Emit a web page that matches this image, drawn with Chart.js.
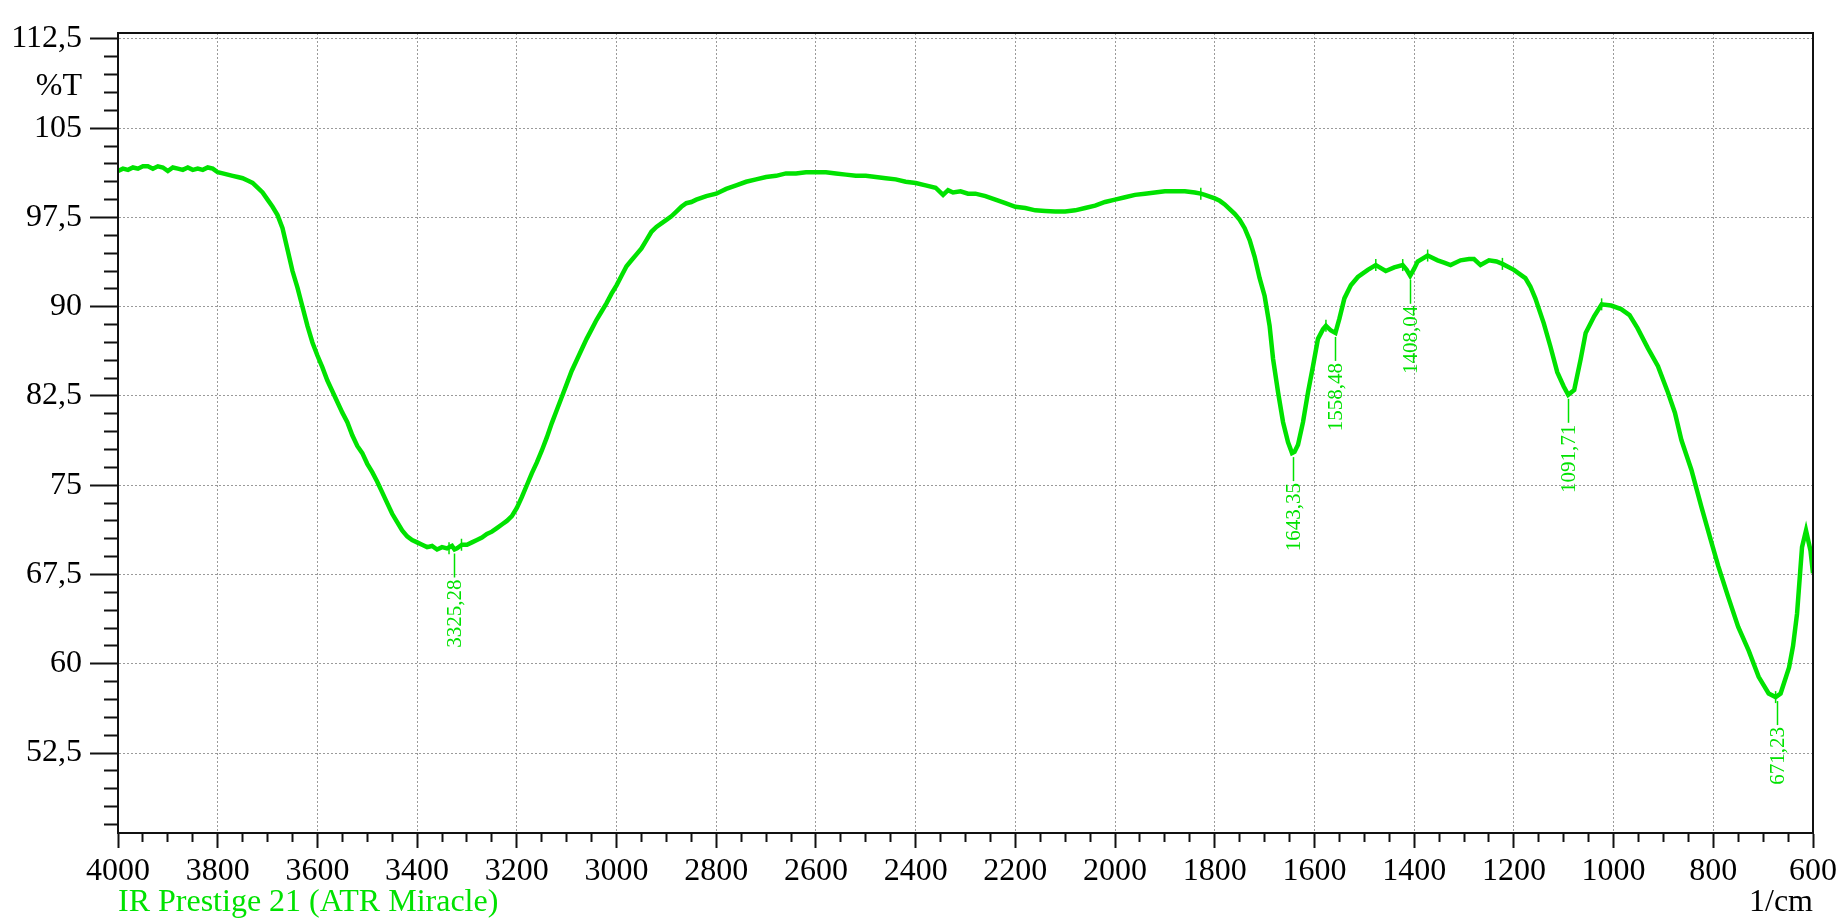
<!DOCTYPE html>
<html>
<head>
<meta charset="utf-8">
<script src="https://cdn.jsdelivr.net/npm/chart.js@4/dist/chart.umd.min.js"></script>
<style>
html, body { margin: 0; padding: 0; background: #fff; }
</style>
</head>
<body>
<canvas id="spectrum" width="1844" height="922"></canvas>
<script>
// spectrum (1/cm , %T)
var wavenumbers = [
    4000, 3990, 3980, 3970, 3960, 3950, 3940, 3930, 3920, 3910, 3900, 3890, 3880, 3870, 3860, 3850, 3840, 3830, 3820, 3810,
    3800, 3790, 3780, 3770, 3760, 3750, 3740, 3730, 3720, 3710, 3700, 3690, 3680, 3670, 3660, 3650, 3640, 3630, 3620, 3610,
    3600, 3590, 3580, 3570, 3560, 3550, 3540, 3530, 3520, 3510, 3500, 3490, 3480, 3470, 3460, 3450, 3440, 3430, 3420, 3410,
    3400, 3390, 3380, 3370, 3360, 3350, 3340, 3330, 3325, 3320, 3310, 3300, 3290, 3280, 3270, 3260, 3250, 3240, 3230, 3220,
    3210, 3200, 3190, 3180, 3170, 3160, 3150, 3140, 3130, 3120, 3110, 3100, 3090, 3080, 3070, 3060, 3050, 3040, 3030, 3020,
    3010, 3000, 2990, 2980, 2970, 2960, 2950, 2940, 2930, 2920, 2910, 2900, 2890, 2880, 2870, 2860, 2850, 2840, 2820, 2800,
    2780, 2760, 2740, 2720, 2700, 2680, 2660, 2640, 2620, 2600, 2580, 2560, 2540, 2520, 2500, 2480, 2460, 2440, 2420, 2400,
    2380, 2360, 2345, 2335, 2325, 2310, 2295, 2280, 2260, 2240, 2220, 2200, 2180, 2160, 2140, 2120, 2100, 2080, 2060, 2040,
    2020, 2000, 1980, 1960, 1940, 1920, 1900, 1880, 1860, 1840, 1828, 1820, 1800, 1790, 1780, 1770, 1760, 1750, 1740, 1730,
    1720, 1710, 1700, 1690, 1683, 1673, 1663, 1653, 1645, 1640, 1633, 1623, 1613, 1603, 1593, 1583, 1577, 1567, 1558, 1550,
    1540, 1527, 1513, 1493, 1477, 1465, 1457, 1440, 1423, 1415, 1408, 1400, 1393, 1373, 1353, 1340, 1327, 1307, 1290, 1280,
    1267, 1250, 1235, 1223, 1200, 1177, 1167, 1157, 1140, 1127, 1113, 1100, 1091, 1079, 1066, 1056, 1039, 1024, 1005, 985,
    968, 952, 931, 911, 891, 877, 864, 844, 824, 803, 790, 770, 750, 729, 709, 689, 675, 665, 648, 640,
    632, 622, 614, 605, 600
];
var transmittance = [
    101.4, 101.6, 101.5, 101.7, 101.6, 101.8, 101.8, 101.6, 101.8, 101.7, 101.4, 101.7, 101.6, 101.5, 101.7, 101.5, 101.6, 101.5, 101.7, 101.6,
    101.3, 101.2, 101.1, 101.0, 100.9, 100.8, 100.6, 100.4, 100.0, 99.6, 99.0, 98.4, 97.7, 96.6, 94.8, 93.0, 91.6, 90.0, 88.4, 87.0,
    85.9, 84.9, 83.8, 82.9, 82.0, 81.1, 80.3, 79.2, 78.3, 77.7, 76.8, 76.1, 75.3, 74.4, 73.5, 72.6, 71.9, 71.2, 70.7, 70.4,
    70.2, 70.0, 69.8, 69.9, 69.6, 69.8, 69.7, 69.9, 69.6, 69.7, 70.0, 70.0, 70.2, 70.4, 70.6, 70.9, 71.1, 71.4, 71.7, 72.0,
    72.4, 73.1, 74.0, 75.0, 76.0, 76.9, 77.9, 79.0, 80.2, 81.3, 82.4, 83.5, 84.6, 85.5, 86.4, 87.3, 88.1, 88.9, 89.6, 90.3,
    91.1, 91.8, 92.6, 93.4, 93.9, 94.4, 94.9, 95.6, 96.3, 96.7, 97.0, 97.3, 97.6, 98.0, 98.4, 98.7, 98.8, 99.0, 99.3, 99.5,
    99.9, 100.2, 100.5, 100.7, 100.9, 101.0, 101.2, 101.2, 101.3, 101.3, 101.3, 101.2, 101.1, 101.0, 101.0, 100.9, 100.8, 100.7, 100.5, 100.4,
    100.2, 100.0, 99.4, 99.8, 99.6, 99.7, 99.5, 99.5, 99.3, 99.0, 98.7, 98.4, 98.3, 98.1, 98.05, 98.0, 98.0, 98.1, 98.3, 98.5,
    98.8, 99.0, 99.2, 99.4, 99.5, 99.6, 99.7, 99.7, 99.7, 99.6, 99.5, 99.4, 99.1, 98.9, 98.6, 98.2, 97.8, 97.3, 96.6, 95.6,
    94.2, 92.4, 90.9, 88.4, 85.6, 82.8, 80.3, 78.6, 77.7, 77.8, 78.4, 80.3, 82.8, 85.0, 87.3, 88.1, 88.4, 88.0, 87.8, 89.0,
    90.7, 91.8, 92.5, 93.1, 93.5, 93.2, 93.0, 93.3, 93.5, 93.1, 92.6, 93.2, 93.8, 94.3, 93.9, 93.7, 93.5, 93.9, 94.0, 94.0,
    93.5, 93.9, 93.8, 93.6, 93.1, 92.4, 91.7, 90.7, 88.6, 86.7, 84.5, 83.3, 82.6, 83.0, 85.6, 87.8, 89.2, 90.2, 90.1, 89.8,
    89.3, 88.2, 86.5, 85.0, 82.8, 81.1, 78.8, 76.3, 73.2, 70.1, 68.2, 65.6, 63.1, 61.1, 58.9, 57.5, 57.2, 57.5, 59.7, 61.5,
    64.2, 69.8, 71.2, 69.5, 67.6
];

// labelled peaks
var peakPositions = [3325.28, 1643.35, 1558.48, 1408.04, 1091.71, 671.23];
var peakValues = [69.6, 77.7, 87.8, 92.6, 82.6, 57.2];
var peakLabels = ["3325,28", "1643,35", "1558,48", "1408,04", "1091,71", "671,23"];

// small peak-pick marks on the trace
var markerPositions = [3336, 3311, 1828, 1577, 1477, 1423, 1373, 1223, 1024, 675, 614];
var markerValues = [69.7, 70.0, 99.5, 88.4, 93.5, 93.5, 94.3, 93.6, 90.2, 57.2, 71.2];

var yMajorTicks = [112.5, 105, 97.5, 90, 82.5, 75, 67.5, 60, 52.5];
var yTickLabels = ["112,5", "105", "97,5", "90", "82,5", "75", "67,5", "60", "52,5"];
var xMajorTicks = [4000, 3800, 3600, 3400, 3200, 3000, 2800, 2600, 2400, 2200, 2000, 1800, 1600, 1400, 1200, 1000, 800, 600];
var xTickLabels = ["4000", "3800", "3600", "3400", "3200", "3000", "2800", "2600", "2400", "2200", "2000", "1800", "1600", "1400", "1200", "1000", "800", "600"];

var green = "rgb(0, 226, 0)";
var serif = "'Liberation Serif', 'Times New Roman', serif";

function isMajorY(v) {
    return yMajorTicks.some(function(m) { return Math.abs(m - v) < 0.01; });
}
function isMajorX(v) {
    return xMajorTicks.indexOf(Math.round(v)) >= 0;
}

var spectrumData = wavenumbers.map(function(w, i) { return { x: w, y: transmittance[i] }; });
var markerData = markerPositions.map(function(w, i) { return { x: w, y: markerValues[i] }; });

var decorations = {
    id: "decorations",
    afterDatasetsDraw: function(chart) {
        var ctx = chart.ctx;
        var xs = chart.scales.x, ys = chart.scales.y;
        ctx.save();
        ctx.strokeStyle = green;
        ctx.fillStyle = green;
        ctx.lineWidth = 1.5;
        ctx.font = "21px " + serif;
        peakPositions.forEach(function(p, i) {
            var px = Math.round(xs.getPixelForValue(p)) + 0.5;
            var py = ys.getPixelForValue(peakValues[i]);
            ctx.beginPath();
            ctx.moveTo(px, py + 4);
            ctx.lineTo(px, py + 28);
            ctx.stroke();
            ctx.save();
            ctx.translate(px, py + 30);
            ctx.rotate(-Math.PI / 2);
            ctx.textAlign = "right";
            ctx.textBaseline = "middle";
            ctx.fillText(peakLabels[i], 0, 1);
            ctx.restore();
        });
        ctx.restore();
    },
    afterDraw: function(chart) {
        var ctx = chart.ctx;
        var a = chart.chartArea;
        var ys = chart.scales.y;
        ctx.save();
        ctx.strokeStyle = "#111";
        ctx.lineWidth = 2;
        ctx.strokeRect(a.left, a.top, a.right - a.left, a.bottom - a.top);

        ctx.font = "32px " + serif;
        ctx.fillStyle = "#000";
        ctx.textAlign = "right";
        ctx.textBaseline = "middle";
        ctx.fillText("%T", a.left - 36, ys.getPixelForValue(108.5));

        ctx.textBaseline = "alphabetic";
        ctx.fillText("1/cm", a.right, 911);

        ctx.fillStyle = green;
        ctx.textAlign = "left";
        ctx.fillText("IR Prestige 21 (ATR Miracle)", a.left, 911);
        ctx.restore();
    }
};

new Chart(document.getElementById("spectrum"), {
    type: "line",
    data: {
        datasets: [{
            label: "spectrum",
            data: spectrumData,
            borderColor: green,
            borderWidth: 4.5,
            pointRadius: 0,
            tension: 0,
            fill: false
        }, {
            label: "marks",
            data: markerData,
            showLine: false,
            borderColor: green,
            borderWidth: 1.5,
            pointStyle: "line",
            rotation: 90,
            pointRadius: 6
        }]
    },
    options: {
        responsive: false,
        animation: false,
        devicePixelRatio: 1,
        layout: { padding: { left: 0, top: 33, right: 31, bottom: 0 } },
        plugins: {
            legend: { display: false },
            tooltip: { enabled: false }
        },
        scales: {
            x: {
                type: "linear",
                reverse: true,
                min: 600,
                max: 4000,
                afterBuildTicks: function(scale) {
                    var t = [];
                    for (var v = 600; v <= 4000; v += 50) t.push({ value: v });
                    scale.ticks = t;
                },
                afterFit: function(scale) { scale.height = 89; },
                ticks: {
                    autoSkip: false,
                    maxRotation: 0,
                    padding: 4,
                    color: "#000",
                    font: { family: serif, size: 32 },
                    callback: function(v) {
                        var i = xMajorTicks.indexOf(Math.round(v));
                        return i >= 0 ? xTickLabels[i] : "";
                    }
                },
                grid: {
                    color: function(c) { return c.tick && isMajorX(c.tick.value) ? "#9a9a9a" : "rgba(0,0,0,0)"; },
                    lineWidth: 1,
                    tickLength: 15,
                    tickWidth: 2,
                    tickColor: "#111",
                    tickBorderDash: function(c) { return c.tick && isMajorX(c.tick.value) ? [] : [8, 20]; }
                },
                border: { color: "#111", width: 2, dash: [2, 2] }
            },
            y: {
                type: "linear",
                min: 45.78,
                max: 113,
                afterBuildTicks: function(scale) {
                    var t = [];
                    for (var k = 0; k <= 44; k++) t.push({ value: 46.5 + k * 1.5 });
                    scale.ticks = t;
                },
                afterFit: function(scale) { scale.width = 118; },
                ticks: {
                    autoSkip: false,
                    padding: 8,
                    color: "#000",
                    font: { family: serif, size: 32 },
                    callback: function(v) {
                        for (var i = 0; i < yMajorTicks.length; i++) {
                            if (Math.abs(yMajorTicks[i] - v) < 0.01) return yTickLabels[i];
                        }
                        return "";
                    }
                },
                grid: {
                    color: function(c) { return c.tick && isMajorY(c.tick.value) ? "#9a9a9a" : "rgba(0,0,0,0)"; },
                    lineWidth: 1,
                    tickLength: 28,
                    tickWidth: 2,
                    tickColor: "#111",
                    tickBorderDash: function(c) { return c.tick && isMajorY(c.tick.value) ? [] : [0, 14, 14, 0]; }
                },
                border: { color: "#111", width: 2, dash: [2, 2] }
            }
        }
    },
    plugins: [decorations]
});
</script>
</body>
</html>
